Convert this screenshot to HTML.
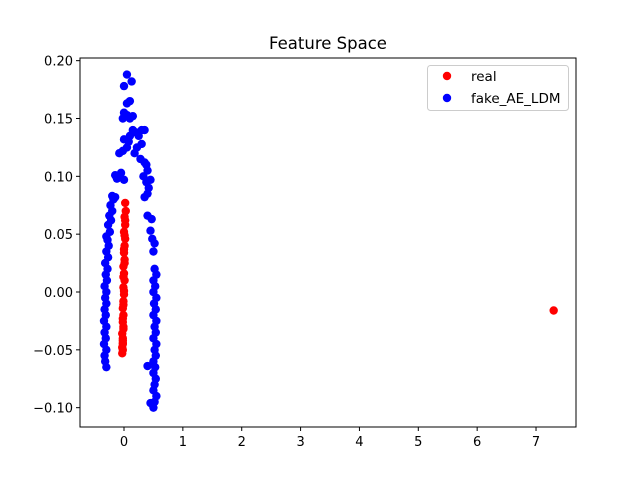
<!DOCTYPE html>
<html><head><meta charset="utf-8"><style>body{margin:0;background:#fff}svg{font-family:"DejaVu Sans","Liberation Sans",sans-serif}</style></head>
<body>
<svg id="chart" width="640" height="480">
<rect width="640" height="480" fill="#fff"/>
<text x="328" y="49" font-size="16.5" text-anchor="middle">Feature Space</text>
<g id="marks"></g>
<g id="axes"></g>
<rect x="80" y="58" width="496" height="369" fill="none" stroke="#000" stroke-width="1"/>
<g>
<rect x="427.5" y="65.5" width="141" height="45" rx="3" fill="#fff" fill-opacity="0.8" stroke="#ccc"/>
<circle cx="447" cy="76" r="4.2" fill="red"/>
<text x="471" y="81" font-size="13.5">real</text>
<circle cx="447" cy="98" r="4.2" fill="blue"/>
<text x="471" y="103" font-size="13.5">fake_AE_LDM</text>
</g>
</svg>
<script>
const xTicks=[0,1,2,3,4,5,6,7];
const yTicks=[-0.10,-0.05,0.00,0.05,0.10,0.15,0.20];
const realX=[0.02,0.03,0.01,0.02,0.0,0.02,0.01,0.0,0.01,-0.01,0.0,0.01,-0.01,0.0,-0.01,-0.02,-0.01,-0.02,-0.01,-0.03,-0.02,-0.02,-0.03,-0.02,-0.03,-0.02,0.02,0.01,0.0,0.01,-0.01,0.0,-0.01,-0.02,-0.01,-0.02,7.3];
const realY=[0.077,0.07,0.065,0.058,0.052,0.046,0.04,0.034,0.028,0.022,0.016,0.01,0.004,-0.002,-0.008,-0.014,-0.02,-0.026,-0.032,-0.036,-0.04,-0.044,-0.048,-0.05,-0.053,-0.045,0.062,0.049,0.037,0.025,0.013,0.001,-0.011,-0.023,-0.03,-0.042,-0.016];
const fakeX=[-0.3,-0.32,-0.33,-0.3,-0.34,-0.31,-0.33,-0.3,-0.34,-0.31,-0.33,-0.3,-0.32,-0.3,-0.33,-0.29,-0.31,-0.28,-0.32,-0.27,-0.3,-0.26,-0.28,-0.3,-0.24,-0.27,-0.22,-0.25,-0.2,-0.23,-0.18,-0.15,-0.2,
-0.1,-0.15,-0.05,-0.12,0.0,-0.08,-0.02,0.05,0.08,0.0,0.1,0.15,0.2,0.25,0.3,0.35,0.3,0.22,0.18,0.28,0.35,0.38,0.4,0.33,0.38,0.42,0.4,0.35,0.45,-0.02,0.05,0.1,0.0,0.1,0.15,0.0,0.05,0.13,0.05,
0.4,0.47,0.45,0.48,0.52,0.5,0.52,0.55,0.5,0.53,0.5,0.55,0.51,0.54,0.5,0.55,0.52,0.54,0.5,0.55,0.52,0.54,0.5,0.4,0.53,0.5,0.54,0.52,0.5,0.55,0.45,0.5,0.52];
const fakeY=[-0.065,-0.06,-0.055,-0.05,-0.045,-0.04,-0.035,-0.03,-0.025,-0.02,-0.015,-0.01,-0.005,0.0,0.005,0.01,0.015,0.02,0.025,0.03,0.035,0.04,0.045,0.048,0.052,0.058,0.062,0.066,0.07,0.075,0.08,0.082,0.083,
0.1,0.101,0.103,0.098,0.097,0.12,0.122,0.125,0.13,0.132,0.135,0.14,0.138,0.135,0.14,0.14,0.128,0.125,0.12,0.115,0.112,0.11,0.105,0.1,0.095,0.09,0.085,0.082,0.097,0.15,0.153,0.15,0.155,0.165,0.152,0.178,0.188,0.182,0.163,
0.066,0.063,0.053,0.046,0.042,0.035,0.02,0.015,0.01,0.005,0.0,-0.005,-0.01,-0.015,-0.02,-0.025,-0.03,-0.035,-0.04,-0.045,-0.05,-0.055,-0.06,-0.064,-0.065,-0.07,-0.075,-0.08,-0.085,-0.09,-0.096,-0.1,-0.095];
const NS='http://www.w3.org/2000/svg';
const sx=v=>124+v*58.86, sy=v=>292-v*1156.7;
const marks=document.getElementById('marks'), axes=document.getElementById('axes');
function dot(x,y,c,name){const e=document.createElementNS(NS,'circle');e.setAttribute('cx',sx(x));e.setAttribute('cy',sy(y));e.setAttribute('r',4.2);e.setAttribute('fill',c);


marks.appendChild(e);}
fakeX.forEach((x,i)=>dot(x,fakeY[i],'blue','fake-point'));
realX.forEach((x,i)=>dot(x,realY[i],'red','real-point'));
xTicks.forEach(t=>{const l=document.createElementNS(NS,'line');l.setAttribute('x1',sx(t));l.setAttribute('x2',sx(t));l.setAttribute('y1',427);l.setAttribute('y2',431);l.setAttribute('stroke','#000');


axes.appendChild(l);
const tx=document.createElementNS(NS,'text');tx.setAttribute('x',sx(t));tx.setAttribute('y',446);tx.setAttribute('font-size','13');tx.setAttribute('text-anchor','middle');tx.textContent=t;


axes.appendChild(tx);});
yTicks.forEach(t=>{const l=document.createElementNS(NS,'line');l.setAttribute('x1',76);l.setAttribute('x2',80);l.setAttribute('y1',sy(t));l.setAttribute('y2',sy(t));l.setAttribute('stroke','#000');


axes.appendChild(l);
const tx=document.createElementNS(NS,'text');tx.setAttribute('x',73);tx.setAttribute('y',sy(t)+5);tx.setAttribute('font-size','13');tx.setAttribute('text-anchor','end');tx.textContent=(t<0?'\u2212':'')+Math.abs(t).toFixed(2);


axes.appendChild(tx);});
</script>
</body></html>
